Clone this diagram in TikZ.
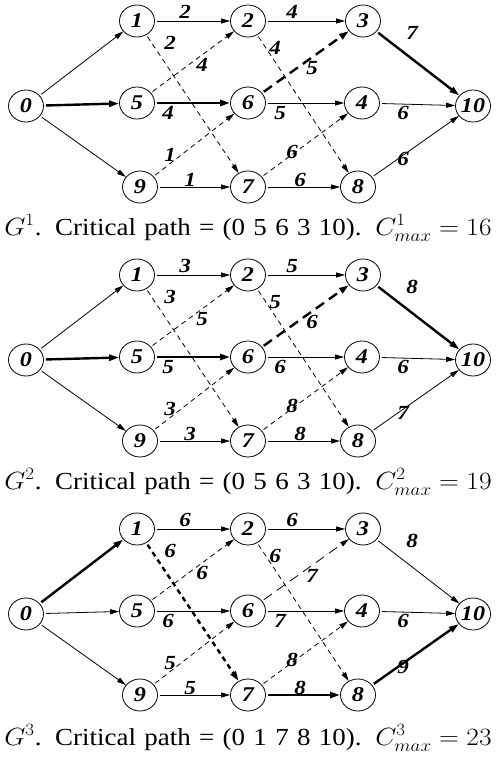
\documentclass[tikz,border=0pt]{standalone}
\usepackage{fontspec}
\setmainfont{Liberation Serif}
\newfontfamily\lblfont[FakeStretch=1.15]{Liberation Serif}
\usetikzlibrary{arrows.meta,shapes.geometric}
\newcommand\mkG[1]{%
\node[nd] (#1n0) at (26,106) {0};
\node[nd] (#1n1) at (137,21) {1};
\node[nd] (#1n2) at (248,21) {2};
\node[nd] (#1n3) at (363,21) {3};
\node[nd] (#1n5) at (137,103) {5};
\node[nd] (#1n6) at (248,103) {6};
\node[nd] (#1n4) at (362,103) {4};
\node[nd] (#1n10) at (473,106) {10};
\node[nd] (#1n9) at (140,187) {9};
\node[nd] (#1n7) at (248,187) {7};
\node[nd] (#1n8) at (358,187) {8};
}
\newcommand\capt[1]{\thickmuskip=5mu\relax\scalebox{1.1}[1]{\makebox[443pt][s]{#1}}}
\begin{document}
\begin{tikzpicture}[x=1pt,y=-1pt,
  nd/.style={ellipse,draw,line width=0.8pt,minimum width=35pt,minimum height=32pt,inner sep=0pt,font=\lblfont\fontsize{21}{21}\selectfont\bfseries\itshape},
  ed/.style={line width=0.8pt,-{Triangle[length=9pt,width=5pt]},shorten <=2pt},
  hv/.style={line width=2.4pt,-{Triangle[length=10pt,width=6pt]}},
  ds/.style={dash pattern=on 5pt off 4pt},
  dsl/.style={dash pattern=on 10pt off 6pt},
  lb/.style={font=\lblfont\fontsize{20}{20}\selectfont\bfseries\itshape,inner sep=0pt},
  captxt/.style={font=\fontsize{24.5}{24.5}\selectfont,inner sep=0pt,anchor=base}
]
\useasboundingbox (0,0) rectangle (496,758);
% ---------- graph 1
\begin{scope}
\mkG{a}
\draw[ed] (an0) -- (an1);
\draw[ed,hv] (an0) -- (an5);
\draw[ed] (an0) -- (an9);
\draw[ed] (an1) -- (an2) node[lb] at (185,12) {2};
\draw[ed,ds] (an1) -- (an7) node[lb] at (170,43) {2};
\draw[ed,ds] (an5) -- (an2) node[lb] at (202,65) {4};
\draw[ed,hv] (an5) -- (an6) node[lb] at (168,113) {4};
\draw[ed,ds] (an9) -- (an6) node[lb] at (170,155) {1};
\draw[ed] (an9) -- (an7) node[lb] at (190,180) {1};
\draw[ed] (an2) -- (an3) node[lb] at (292,12) {4};
\draw[ed,ds] (an2) -- (an8) node[lb] at (275,48) {4};
\draw[ed,hv,dsl] (an6) -- (an3) node[lb] at (312,68) {5};
\draw[ed] (an6) -- (an4) node[lb] at (280,113) {5};
\draw[ed,ds] (an7) -- (an4) node[lb] at (292,152) {6};
\draw[ed] (an7) -- (an8) node[lb] at (300,180) {6};
\draw[ed,hv] (an3) -- (an10) node[lb] at (412,33) {7};
\draw[ed] (an4) -- (an10) node[lb] at (403,113) {6};
\draw[ed] (an8) -- (an10) node[lb] at (403,159) {6};
\node[captxt] (c1) at (248,235) {\capt{$G^1$. Critical path = (0 5 6 3 10). $C^1_{max} = 16$}};
\end{scope}
% ---------- graph 2
\begin{scope}[shift={(0,254)}]
\mkG{b}
\draw[ed] (bn0) -- (bn1);
\draw[ed,hv] (bn0) -- (bn5);
\draw[ed] (bn0) -- (bn9);
\draw[ed] (bn1) -- (bn2) node[lb] at (185,12) {3};
\draw[ed,ds] (bn1) -- (bn7) node[lb] at (170,43) {3};
\draw[ed,ds] (bn5) -- (bn2) node[lb] at (202,65) {5};
\draw[ed,hv] (bn5) -- (bn6) node[lb] at (168,113) {5};
\draw[ed,ds] (bn9) -- (bn6) node[lb] at (170,155) {3};
\draw[ed] (bn9) -- (bn7) node[lb] at (190,180) {3};
\draw[ed] (bn2) -- (bn3) node[lb] at (292,12) {5};
\draw[ed,ds] (bn2) -- (bn8) node[lb] at (275,48) {5};
\draw[ed,hv,dsl] (bn6) -- (bn3) node[lb] at (312,68) {6};
\draw[ed] (bn6) -- (bn4) node[lb] at (280,113) {6};
\draw[ed,ds] (bn7) -- (bn4) node[lb] at (292,152) {8};
\draw[ed] (bn7) -- (bn8) node[lb] at (300,180) {8};
\draw[ed,hv] (bn3) -- (bn10) node[lb] at (412,33) {8};
\draw[ed] (bn4) -- (bn10) node[lb] at (403,113) {6};
\draw[ed] (bn8) -- (bn10) node[lb] at (403,159) {7};
\node[captxt] (c2) at (248,235) {\capt{$G^2$. Critical path = (0 5 6 3 10). $C^2_{max} = 19$}};
\end{scope}
% ---------- graph 3
\begin{scope}[shift={(0,508)}]
\mkG{c}
\draw[ed,hv] (cn0) -- (cn1);
\draw[ed] (cn0) -- (cn5);
\draw[ed] (cn0) -- (cn9);
\draw[ed] (cn1) -- (cn2) node[lb] at (185,12) {6};
\draw[ed,hv,ds] (cn1) -- (cn7) node[lb] at (170,43) {6};
\draw[ed,ds] (cn5) -- (cn2) node[lb] at (202,65) {6};
\draw[ed] (cn5) -- (cn6) node[lb] at (168,113) {6};
\draw[ed,ds] (cn9) -- (cn6) node[lb] at (170,155) {5};
\draw[ed] (cn9) -- (cn7) node[lb] at (190,180) {5};
\draw[ed] (cn2) -- (cn3) node[lb] at (292,12) {6};
\draw[ed,ds] (cn2) -- (cn8) node[lb] at (275,48) {6};
\draw[ed,dsl] (cn6) -- (cn3) node[lb] at (312,68) {7};
\draw[ed] (cn6) -- (cn4) node[lb] at (280,113) {7};
\draw[ed,ds] (cn7) -- (cn4) node[lb] at (292,152) {8};
\draw[ed,hv] (cn7) -- (cn8) node[lb] at (300,180) {8};
\draw[ed] (cn3) -- (cn10) node[lb] at (412,33) {8};
\draw[ed] (cn4) -- (cn10) node[lb] at (403,113) {6};
\draw[ed,hv] (cn8) -- (cn10) node[lb] at (403,159) {9};
\node[captxt] (c3) at (248,237) {\capt{$G^3$. Critical path = (0 1 7 8 10). $C^3_{max} = 23$}};
\end{scope}
\end{tikzpicture}
\end{document}
